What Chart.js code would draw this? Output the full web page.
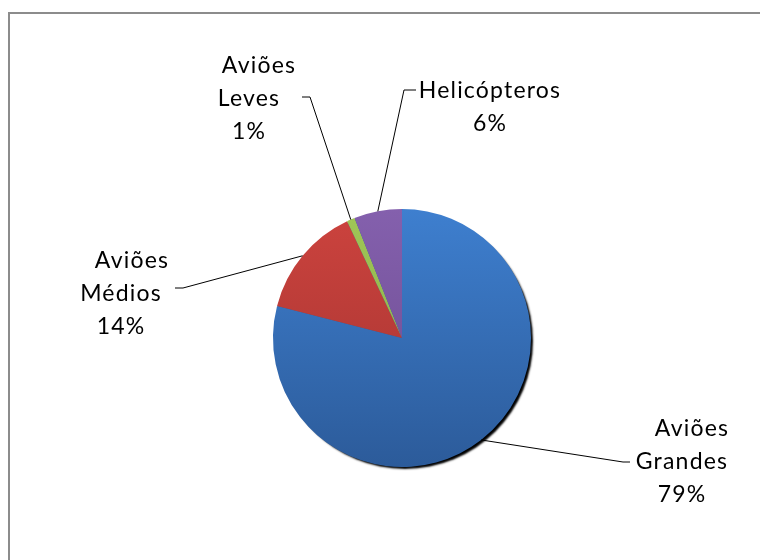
<!DOCTYPE html>
<html>
<head>
<meta charset="utf-8">
<script src="https://cdn.jsdelivr.net/npm/chart.js@4.4.1/dist/chart.umd.min.js"></script>
<style>
  html, body { margin: 0; padding: 0; background: #ffffff; }
  canvas { display: block; }
</style>
</head>
<body>
<canvas id="chart" width="760" height="560"></canvas>
<script>
// Fleet composition by aircraft type (share of total, %)
const categories = ['Aviões Grandes', 'Aviões Médios', 'Aviões Leves', 'Helicópteros'];
const shares = [79, 14, 1, 6];

// Slice fill: vertical gradient from light (top) to dark (bottom)
const sliceTop = ['#3E7FCF', '#CC433E', '#A0C657', '#8460AD'];
const sliceBottom = ['#2C5B9A', '#A33330', '#86A944', '#6A4A8E'];

// Placement of each data label: text centre x, first baseline y,
// elbow point of the leader line and end of its short horizontal tick.
const labelLayout = [
  { cx: 682, y: 436, elbow: [623, 462], tick: 630, firstDx: 10 },
  { cx: 121, y: 268, elbow: [183, 288], tick: 175, firstDx: 11 },
  { cx: 249, y: 73,  elbow: [310, 97],  tick: 302, firstDx: 10 },
  { cx: 490, y: 98,  elbow: [404, 90],  tick: 416, firstDx: 0 }
];
const LINE_HEIGHT = 33;
const LABEL_FONT = '23px Lato';
const LABEL_SPACING = '1.2px';

function labelText(i) {
  return categories[i].split(' ').concat([shares[i] + '%']);
}

const framePlugin = {
  id: 'frame',
  beforeDraw(chart) {
    const ctx = chart.ctx;
    ctx.save();
    ctx.fillStyle = '#ffffff';
    ctx.fillRect(0, 0, chart.width, chart.height);
    ctx.fillStyle = '#8c8c8c';
    ctx.fillRect(8, 12, chart.width - 8, 2);
    ctx.fillRect(8, 12, 2, chart.height - 12);
    ctx.restore();
  }
};

const pieShadowPlugin = {
  id: 'pieShadow',
  beforeDatasetsDraw(chart) {
    const arc = chart.getDatasetMeta(0).data[0];
    if (!arc) return;
    const ctx = chart.ctx;
    ctx.save();
    ctx.shadowColor = 'rgba(0,0,0,1)';
    ctx.shadowBlur = 2;
    ctx.shadowOffsetX = 3;
    ctx.shadowOffsetY = 3;
    ctx.beginPath();
    ctx.arc(arc.x, arc.y, arc.outerRadius - 1, 0, Math.PI * 2);
    ctx.fillStyle = '#2C5B9A';
    ctx.fill();
    ctx.restore();
  }
};

const leaderLabelPlugin = {
  id: 'leaderLabels',
  afterDatasetsDraw(chart) {
    const ctx = chart.ctx;
    const arcs = chart.getDatasetMeta(0).data;
    ctx.save();
    arcs.forEach((arc, i) => {
      const lay = labelLayout[i];
      const mid = (arc.startAngle + arc.endAngle) / 2;
      const ax = arc.x + Math.cos(mid) * arc.outerRadius;
      const ay = arc.y + Math.sin(mid) * arc.outerRadius;

      ctx.strokeStyle = '#000000';
      ctx.lineWidth = 1;
      ctx.beginPath();
      ctx.moveTo(ax, ay);
      ctx.lineTo(lay.elbow[0], lay.elbow[1]);
      ctx.lineTo(lay.tick, lay.elbow[1]);
      ctx.stroke();

      ctx.fillStyle = '#000000';
      ctx.font = LABEL_FONT;
      ctx.letterSpacing = LABEL_SPACING;
      ctx.textAlign = 'center';
      ctx.textBaseline = 'alphabetic';
      labelText(i).forEach((line, k) => {
        const dx = k === 0 ? lay.firstDx : 0;
        ctx.fillText(line, lay.cx + dx, lay.y + k * LINE_HEIGHT);
      });
    });
    ctx.restore();
  }
};

function sliceFill(context) {
  const i = context.dataIndex;
  const chart = context.chart;
  const area = chart.chartArea;
  if (!area) return sliceTop[i];
  const g = chart.ctx.createLinearGradient(0, area.top, 0, area.bottom);
  g.addColorStop(0, sliceTop[i]);
  g.addColorStop(1, sliceBottom[i]);
  return g;
}

new Chart(document.getElementById('chart'), {
  type: 'pie',
  data: {
    labels: categories,
    datasets: [{
      data: shares,
      backgroundColor: sliceFill,
      borderWidth: 0
    }]
  },
  options: {
    responsive: false,
    animation: false,
    devicePixelRatio: 1,
    layout: { padding: { left: 273, right: 229, top: 209, bottom: 93 } },
    plugins: {
      legend: { display: false },
      tooltip: { enabled: false }
    }
  },
  plugins: [framePlugin, pieShadowPlugin, leaderLabelPlugin]
});
</script>
</body>
</html>
